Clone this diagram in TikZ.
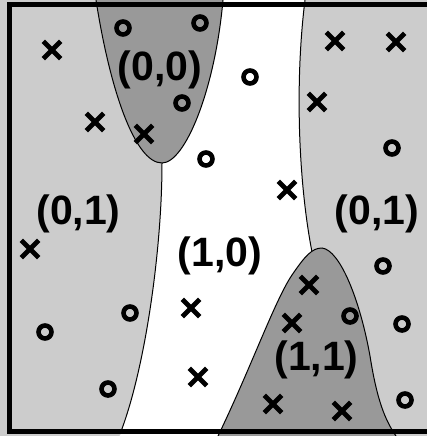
\documentclass[tikz,border=0pt]{standalone}
\usepackage{fontspec}
\setmainfont{Liberation Sans}
\usetikzlibrary{shapes.misc}
\definecolor{lightg}{HTML}{CCCCCC}
\definecolor{darkg}{HTML}{999999}
\tikzset{
  xmark/.style={cross out, draw=black, line width=4.8pt, minimum size=12.5pt, inner sep=0pt},
  omark/.style={circle, draw=black, line width=4.6pt, minimum size=13pt, inner sep=0pt},
  region/.style={font=\fontsize{41}{43}\selectfont\bfseries, inner sep=0pt},
  edge/.style={draw=black, line width=1pt},
}
\begin{document}
\begin{tikzpicture}[x=1pt,y=-1pt]
\useasboundingbox (0,0) rectangle (427,436);
% light background
\fill[lightg] (0,0) rectangle (440,440);
% white region (1,0)
\fill[white] (163,0) -- (305,0) .. controls (295,80) and (298,180) .. (312,252)
  -- (330,300) -- (300,440) -- (119,440) -- (120,434)
  .. controls (145,370) and (162,250) .. (162,163) -- cycle;
% boundary lines
\coordinate (lt) at (162,163);
\coordinate (lb) at (120,434);
\coordinate (rt) at (305,0);
\coordinate (rb) at (312,252);
\draw[edge] (lt) .. controls (162,250) and (145,370) .. (lb);
\draw[edge] (rt) .. controls (295,80) and (298,180) .. (rb);
% dark region (0,0)
\filldraw[fill=darkg, edge] (96,0) .. controls (110,90) and (135,163) .. (162,163)
  .. controls (185,163) and (215,90) .. (223,0);
% dark region (1,1)
\filldraw[fill=darkg, edge] (218,436) .. controls (250,370) and (275,300) .. (292,275)
  .. controls (305,256) and (312,248) .. (322,248)
  .. controls (340,250) and (360,300) .. (370,356)
  .. controls (377,400) and (385,420) .. (396,436);
% crosses
\node[xmark] (c1) at (52,50) {};
\node[xmark] (c2) at (95,122) {};
\node[xmark] (c3) at (144,134) {};
\node[xmark] (c4) at (335,41) {};
\node[xmark] (c5) at (396,42) {};
\node[xmark] (c6) at (317,102) {};
\node[xmark] (c7) at (287,190) {};
\node[xmark] (c8) at (30,249) {};
\node[xmark] (c9) at (191,308) {};
\node[xmark] (c10) at (198,377) {};
\node[xmark] (c11) at (309,285) {};
\node[xmark] (c12) at (292,323) {};
\node[xmark] (c13) at (273,404) {};
\node[xmark] (c14) at (342,411) {};
% circles
\node[omark] (o1) at (123,28) {};
\node[omark] (o2) at (200,23) {};
\node[omark] (o3) at (182,103) {};
\node[omark] (o4) at (206,159) {};
\node[omark] (o5) at (250,77) {};
\node[omark] (o6) at (392,148) {};
\node[omark] (o7) at (130,313) {};
\node[omark] (o8) at (45,332) {};
\node[omark] (o9) at (108,389) {};
\node[omark] (o10) at (383,266) {};
\node[omark] (o11) at (350,316) {};
\node[omark] (o12) at (402,324) {};
\node[omark] (o13) at (405,400) {};
% labels
\node[region] (l00) at (160,70) {(0,0)};
\node[region] (l01a) at (78.5,213.5) {(0,1)};
\node[region] (l10) at (220,256) {(1,0)};
\node[region] (l01b) at (377,214) {(0,1)};
\node[region] (l11) at (316.5,360) {(1,1)};
% frame
\draw[line width=4.6pt] (440,4.5) -- (9.5,4.5) -- (9.5,431.5) -- (440,431.5);
\end{tikzpicture}
\end{document}
